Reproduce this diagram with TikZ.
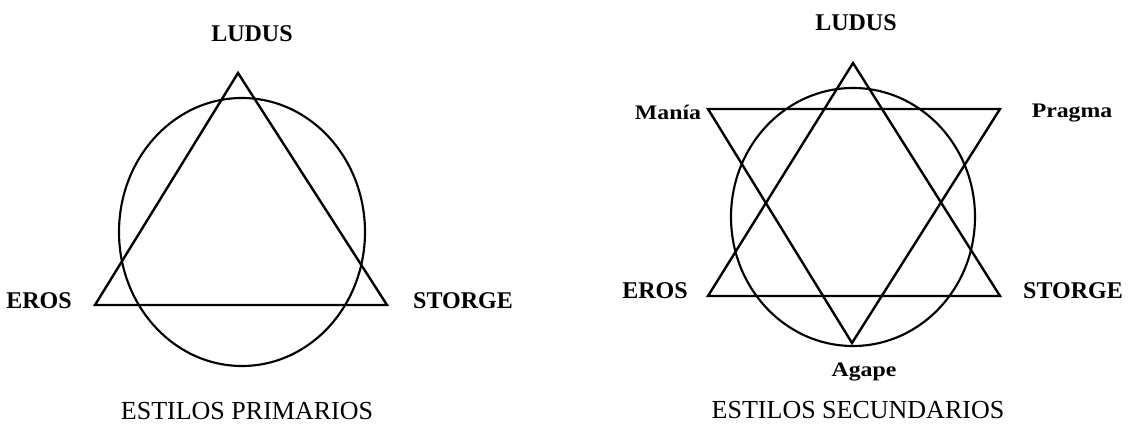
\documentclass[tikz,border=0pt]{standalone}
\usepackage{fontspec}
\setmainfont{Liberation Serif}
\newfontfamily\widefont[FakeStretch=1.15]{Liberation Serif}
\usetikzlibrary{positioning}

\begin{document}
\begin{tikzpicture}[
  x=0.75pt, y=-0.75pt,
  line/.style={draw, line width=1.8pt, line join=miter},
  ring/.style={draw, line width=1.6pt},
  biglabel/.style={font=\bfseries\fontsize{18}{20}\selectfont, inner sep=0pt},
  smalllabel/.style={font=\widefont\bfseries\fontsize{15.5}{17}\selectfont, inner sep=0pt},
  caption/.style={font=\fontsize{19.5}{22}\selectfont, inner sep=0pt}
]
\useasboundingbox (0,0) rectangle (1129,427);
% primary styles
\coordinate (pL) at (238,73);
\coordinate (pE) at (95,305);
\coordinate (pS) at (387,305);
\draw[ring] (242,232) ellipse [x radius=123, y radius=134];
\draw[line] (pL) -- (pE) -- (pS) -- cycle;
\node[biglabel] (ludusA) at (252,34) {LUDUS};
\node[biglabel] (erosA) at (39,301) {EROS};
\node[biglabel] (storgeA) at (463,301) {STORGE};
\node[caption] (primA) at (247,411) {ESTILOS PRIMARIOS};
% secondary styles
\coordinate (sL) at (853,63);
\coordinate (sE) at (708,296);
\coordinate (sS) at (1000,296);
\coordinate (sM) at (708,109);
\coordinate (sP) at (1000,109);
\coordinate (sA) at (852,343);
\draw[ring] (853,217) ellipse [x radius=122, y radius=129];
\draw[line] (sL) -- (sE) -- (sS) -- cycle;
\draw[line] (sM) -- (sP) -- (sA) -- cycle;
\node[biglabel] (ludusB) at (856,23) {LUDUS};
\node[smalllabel] (mania) at (668,112) {Manía};
\node[smalllabel] (pragma) at (1072,113) {Pragma};
\node[biglabel] (erosB) at (655,291) {EROS};
\node[biglabel] (storgeB) at (1073,291) {STORGE};
\node[smalllabel] (agape) at (864,372) {Agape};
\node[caption] (secB) at (858,410) {ESTILOS SECUNDARIOS};
\end{tikzpicture}
\end{document}
